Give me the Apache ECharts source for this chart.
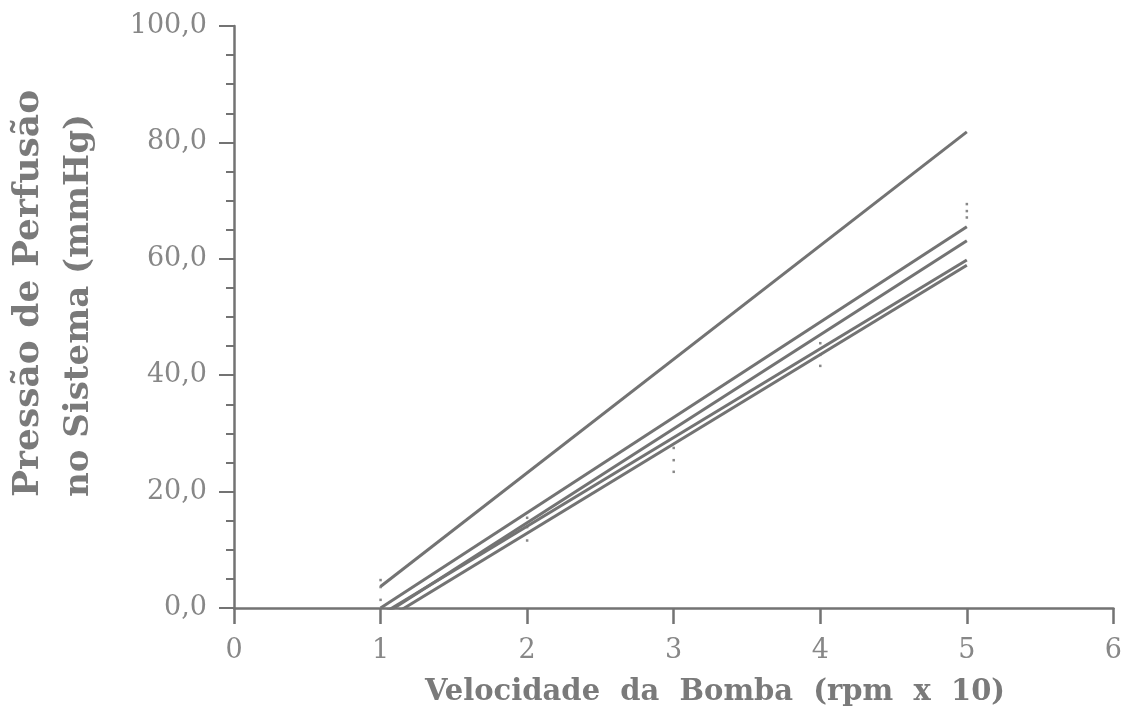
<!DOCTYPE html>
<html>
<head>
<meta charset="utf-8">
<script src="https://cdn.jsdelivr.net/npm/echarts@6/dist/echarts.min.js"></script>
<style>
  html, body { margin: 0; padding: 0; background: #fff; }
  #chart { width: 1125px; height: 717px; }
</style>
</head>
<body>
<div id="chart"></div>
<script>
// regression lines, value at x = 1 and x = 5 (clipped below 0 by the grid)
const lineX = [1, 5]
const lineA = [3.7, 81.8]
const lineB = [0.0, 65.5]
const lineC = [-1.5, 63.1]
const lineD = [-1.2, 59.8]
const lineE = [-2.5, 58.9]

// measured points (small dots)
const dotX = [1, 1, 1, 2, 2, 2, 3, 3, 3, 4, 4, 4, 5, 5, 5]
const dotY = [4.8, 3.6, 1.4, 15.5, 13.9, 11.6, 27.5, 25.4, 23.4, 45.5, 43.5, 41.6, 69.4, 68.2, 67.1]

const xTitle = 'Velocidade  da  Bomba  (rpm  x  10)'
const yTitle1 = 'Pressão de Perfusão'
const yTitle2 = 'no Sistema (mmHg)'

const gray = '#737373'
const serif = '"DejaVu Serif", "Liberation Serif", serif'

const chart = echarts.init(document.getElementById('chart'), null, { renderer: 'canvas' })

const pair = ys => lineX.map((x, i) => [x, ys[i]])
const lineSeries = ys => ({
    type: 'line',
    data: pair(ys),
    symbol: 'none',
    silent: true,
    clip: true,
    lineStyle: { color: gray, width: 3 }
})

chart.setOption({
    animation: false,
    backgroundColor: '#fff',
    grid: { left: 234, right: 11, top: 26, bottom: 109 },
    xAxis: {
        type: 'value',
        min: 0,
        max: 6,
        interval: 1,
        axisLine: { lineStyle: { color: gray, width: 2.5 } },
        axisTick: { show: true, length: 16, lineStyle: { color: gray, width: 2.5 } },
        axisLabel: { margin: 29, color: '#878787', fontFamily: serif, fontSize: 27 },
        splitLine: { show: false }
    },
    yAxis: {
        type: 'value',
        min: 0,
        max: 100,
        interval: 20,
        axisLine: { show: true, lineStyle: { color: gray, width: 2.5 } },
        axisTick: { show: true, length: 15, lineStyle: { color: gray, width: 2 } },
        minorTick: { show: true, splitNumber: 4, length: 8, lineStyle: { color: gray, width: 2 } },
        axisLabel: {
            margin: 27,
            color: '#878787',
            fontFamily: serif,
            fontSize: 27,
            formatter: v => v.toFixed(1).replace('.', ',')
        },
        splitLine: { show: false }
    },
    graphic: [
        {
            type: 'text',
            x: 715,
            y: 692,
            style: {
                text: xTitle,
                fill: '#7a7a7a',
                font: 'bold 29px ' + serif,
                textAlign: 'center',
                textVerticalAlign: 'middle'
            }
        },
        {
            type: 'text',
            x: 29,
            y: 497,
            rotation: Math.PI / 2,
            style: {
                text: yTitle1,
                fill: '#7a7a7a',
                font: 'bold 36px ' + serif,
                textAlign: 'left',
                textVerticalAlign: 'middle'
            }
        },
        {
            type: 'text',
            x: 79,
            y: 497,
            rotation: Math.PI / 2,
            style: {
                text: yTitle2,
                fill: '#7a7a7a',
                font: 'bold 34px ' + serif,
                textAlign: 'left',
                textVerticalAlign: 'middle'
            }
        }
    ],
    series: [
        lineSeries(lineA),
        lineSeries(lineB),
        lineSeries(lineC),
        lineSeries(lineD),
        lineSeries(lineE),
        {
            type: 'scatter',
            data: dotX.map((x, i) => [x, dotY[i]]),
            symbol: 'rect',
            symbolSize: 2.5,
            silent: true,
            itemStyle: { color: '#6a6a6a' },
            z: 1
        }
    ]
})
</script>
</body>
</html>
